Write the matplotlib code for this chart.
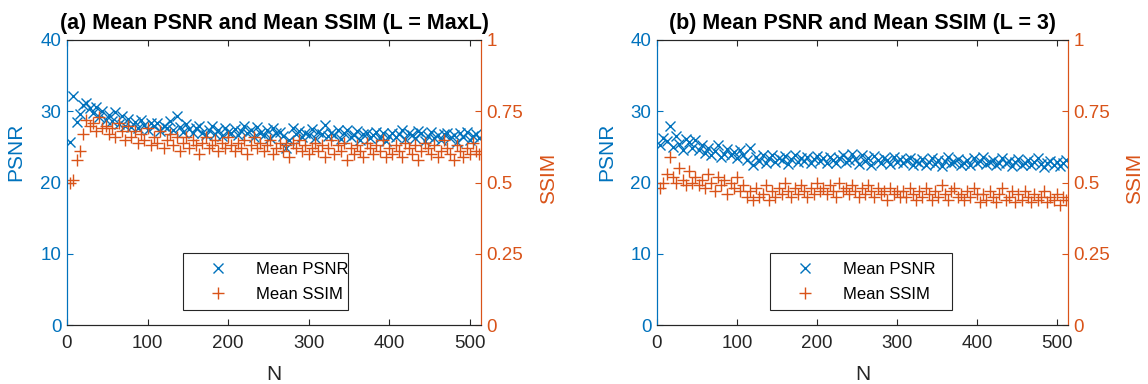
import numpy as np
import matplotlib
matplotlib.use("Agg")
import matplotlib.pyplot as plt

plt.rcParams['font.family'] = ['Liberation Sans', 'DejaVu Sans']

# Number of components N (step 4)
N = np.arange(4, 513, 4)

# (a) L = MaxL
psnr_a = [25.7, 32.1, 28.5, 29.6, 30.9, 31.2, 30.4, 29.8, 30.6, 29.2, 30.0, 28.8, 29.5,
          28.6, 29.9, 28.2, 29.3, 28.0, 28.9, 27.8, 28.5, 27.6, 28.8, 28.1, 27.4, 28.3,
          27.9, 28.4, 27.2, 28.0, 27.6, 28.6, 27.3, 29.3, 27.8, 27.1, 28.2, 27.5, 26.9,
          27.7, 28.0, 27.0, 26.6, 27.4, 27.9, 26.8, 27.3, 26.5, 27.6, 27.1, 26.9,
          27.5, 26.7, 27.2, 28.0, 26.9, 27.4, 26.4, 27.8, 27.0, 26.6, 27.3, 26.2, 27.6,
          26.9, 27.1, 26.5, 24.8, 25.9, 27.7, 26.8, 27.2, 26.4, 27.0, 26.7, 27.5,
          26.3, 27.1, 26.8, 28.1, 26.5, 27.0, 26.6, 27.3, 26.1, 26.9, 27.4, 26.4, 26.7,
          27.2, 25.9, 26.8, 27.0, 26.3, 26.6, 27.1, 26.2, 26.9, 25.8, 26.5, 27.0,
          26.4, 26.8, 27.3, 26.1, 27.0, 26.6, 26.2, 27.2, 26.9, 25.8, 26.5, 27.1, 26.3,
          26.7, 25.9, 26.8, 27.0, 26.2, 26.6, 25.7, 26.9, 26.4, 27.1, 26.0, 26.5, 26.8, 26.3]
ssim_a = [0.50, 0.51, 0.58, 0.61, 0.67, 0.72, 0.70, 0.71, 0.68, 0.73, 0.69, 0.70, 0.67,
          0.69, 0.66, 0.71, 0.68, 0.65, 0.70, 0.66, 0.68, 0.64, 0.67, 0.65, 0.69, 0.63,
          0.66, 0.64, 0.68, 0.62, 0.65, 0.67, 0.63, 0.66, 0.61, 0.64, 0.66, 0.62, 0.65,
          0.63, 0.60, 0.64, 0.66, 0.62, 0.63, 0.65, 0.61, 0.64, 0.62, 0.66, 0.63,
          0.61, 0.64, 0.62, 0.65, 0.60, 0.63, 0.66, 0.62, 0.64, 0.61, 0.63, 0.65, 0.60,
          0.62, 0.64, 0.61, 0.63, 0.59, 0.64, 0.62, 0.65, 0.61, 0.63, 0.60, 0.62,
          0.64, 0.61, 0.63, 0.59, 0.62, 0.65, 0.60, 0.63, 0.61, 0.64, 0.58, 0.62, 0.60,
          0.63, 0.61, 0.59, 0.64, 0.62, 0.60, 0.63, 0.61, 0.65, 0.59, 0.62, 0.60,
          0.63, 0.61, 0.59, 0.64, 0.62, 0.60, 0.63, 0.58, 0.61, 0.64, 0.62, 0.60, 0.63,
          0.59, 0.61, 0.65, 0.62, 0.60, 0.58, 0.63, 0.61, 0.59, 0.62, 0.60, 0.64, 0.61, 0.60]

# (b) L = 3
psnr_b = [25.2, 26.3, 25.8, 28.0, 25.0, 26.5, 25.4, 24.6, 26.1, 25.7, 24.9, 25.9, 24.5,
          25.3, 24.2, 24.8, 23.9, 24.4, 25.2, 23.6, 24.0, 24.7, 23.8, 24.3, 23.5, 24.5,
          23.9, 23.2, 24.8, 22.4, 23.6, 23.0, 23.8, 22.7, 23.4, 23.9, 22.9, 23.5, 23.1,
          23.7, 22.6, 23.3, 23.8, 22.9, 23.4, 23.0, 23.6, 22.8, 23.3, 23.7, 23.0,
          23.4, 22.8, 23.6, 23.1, 22.7, 23.5, 23.9, 22.9, 23.2, 24.0, 23.3, 22.6, 23.8,
          23.0, 23.4, 22.5, 23.7, 23.1, 22.8, 23.5, 23.2, 22.6, 23.6, 22.9, 23.3,
          22.7, 23.1, 23.5, 22.4, 23.0, 22.8, 23.3, 22.5, 22.9, 23.4, 22.6, 23.2, 22.3,
          23.0, 23.6, 22.7, 22.9, 23.3, 22.4, 22.8, 23.1, 22.5, 23.4, 22.7, 23.0,
          23.6, 22.6, 22.9, 23.2, 22.4, 22.8, 23.5, 22.7, 23.0, 22.3, 22.9, 23.3, 22.5,
          22.8, 23.1, 22.4, 22.9, 23.4, 22.6, 22.2, 22.8, 23.0, 22.5, 22.9, 22.3, 22.7, 23.1]
ssim_b = [0.48, 0.50, 0.53, 0.59, 0.52, 0.50, 0.55, 0.51, 0.49, 0.54, 0.50, 0.52, 0.49,
          0.51, 0.48, 0.53, 0.50, 0.47, 0.52, 0.49, 0.51, 0.46, 0.50, 0.48, 0.52, 0.47,
          0.49, 0.45, 0.47, 0.44, 0.48, 0.45, 0.46, 0.49, 0.44, 0.47, 0.45, 0.48, 0.46,
          0.50, 0.47, 0.45, 0.48, 0.46, 0.49, 0.47, 0.45, 0.48, 0.46, 0.50, 0.47,
          0.48, 0.46, 0.49, 0.47, 0.45, 0.50, 0.47, 0.48, 0.46, 0.49, 0.47, 0.45, 0.48,
          0.46, 0.49, 0.47, 0.45, 0.48, 0.46, 0.47, 0.44, 0.48, 0.46, 0.47, 0.45,
          0.47, 0.45, 0.48, 0.46, 0.44, 0.47, 0.45, 0.48, 0.46, 0.44, 0.47, 0.45, 0.49,
          0.46, 0.44, 0.47, 0.48, 0.45, 0.46, 0.44, 0.47, 0.45, 0.48, 0.46, 0.43,
          0.46, 0.44, 0.47, 0.45, 0.43, 0.46, 0.48, 0.44, 0.45, 0.47, 0.43, 0.46, 0.44,
          0.47, 0.45, 0.43, 0.46, 0.44, 0.45, 0.47, 0.43, 0.45, 0.44, 0.46, 0.42, 0.45, 0.44]

titles = ["(a) Mean PSNR and Mean SSIM (L = MaxL)",
          "(b) Mean PSNR and Mean SSIM (L = 3)"]
x_ticks = [0, 100, 200, 300, 400, 500]
psnr_ticks = [0, 10, 20, 30, 40]
ssim_ticks = [0, 0.25, 0.5, 0.75, 1]
ssim_ticklabels = ["0", "0.25", "0.5", "0.75", "1"]

BLUE = "#0072BD"
ORANGE = "#D95319"
DARK = "#262626"

fig = plt.figure(figsize=(11.48, 3.84), dpi=100)
W, H = 1148, 384
panels = [
    dict(psnr=psnr_a, ssim=ssim_a, title=titles[0], left=67, right=481,
         leg=(183, 348)),
    dict(psnr=psnr_b, ssim=ssim_b, title=titles[1], left=657, right=1068,
         leg=(770, 952)),
]
top_px, bot_px = 40, 325

for p in panels:
    ax = fig.add_axes([p['left'] / W, 1 - bot_px / H,
                       (p['right'] - p['left']) / W, (bot_px - top_px) / H])
    ax2 = ax.twinx()

    h1, = ax.plot(N, p['psnr'], linestyle='none', marker='x', color=BLUE,
                  markersize=7.5, markeredgewidth=1.0, label='Mean PSNR')
    h2, = ax2.plot(N, p['ssim'], linestyle='none', marker='+', color=ORANGE,
                   markersize=9, markeredgewidth=1.0, label='Mean SSIM')

    ax.set_xlim(0, 514)
    ax.set_ylim(0, 40)
    ax2.set_ylim(0, 1)
    ax.set_xticks(x_ticks)
    ax.set_yticks(psnr_ticks)
    ax2.set_yticks(ssim_ticks)
    ax2.set_yticklabels(ssim_ticklabels)

    for a in (ax, ax2):
        a.spines['top'].set_color(DARK)
        a.spines['bottom'].set_color(DARK)
        a.spines['left'].set_color(BLUE)
        a.spines['right'].set_color(ORANGE)
        for s in a.spines.values():
            s.set_linewidth(0.8)

    ax.tick_params(axis='x', direction='in', top=True, length=4, width=0.8,
                   colors=DARK, labelsize=13.5, pad=7)
    ax.tick_params(axis='y', direction='in', length=4, width=0.8,
                   colors=BLUE, labelsize=13.5, pad=4)
    ax2.tick_params(axis='y', direction='in', length=4, width=0.8,
                    colors=ORANGE, labelsize=13.5, pad=4)

    ax.set_xlabel('N', fontsize=15, color=DARK)
    ax.xaxis.set_label_coords(0.5, -0.14)
    ax.set_ylabel('PSNR', fontsize=15, color=BLUE)
    ax.yaxis.set_label_coords(-0.1, 0.607)
    ax2.set_ylabel('SSIM', fontsize=15, color=ORANGE, rotation=90)
    ax2.yaxis.set_label_coords(1.14, 0.516)
    ax.set_title(p['title'], fontsize=15.5, fontweight='bold', pad=8)

    lx0, lx1 = p['leg']
    w_ax = p['right'] - p['left']
    h_ax = bot_px - top_px
    leg = ax2.legend([h1, h2], ['Mean PSNR', 'Mean SSIM'],
                     loc='lower left', mode='expand',
                     bbox_to_anchor=((lx0 - p['left']) / w_ax, (bot_px - 310) / h_ax,
                                     (lx1 - lx0) / w_ax, (310 - 254) / h_ax),
                     fontsize=12, handlelength=3.2, handletextpad=0.7,
                     borderaxespad=0, borderpad=0.5, labelspacing=0.6,
                     fancybox=False, framealpha=1, edgecolor=DARK)
    leg.get_frame().set_linewidth(0.8)

fig.savefig("out.png", dpi=100)
